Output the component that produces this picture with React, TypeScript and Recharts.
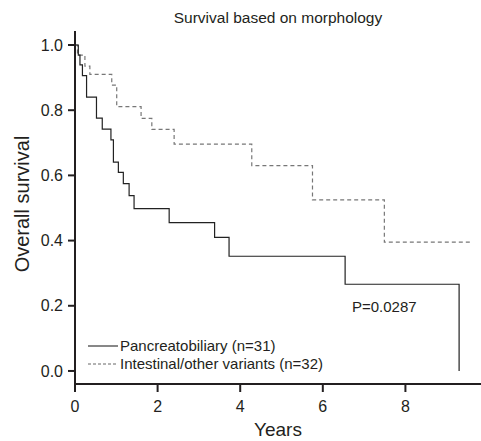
import { Line, LineChart, XAxis, YAxis } from "recharts";

// Kaplan-Meier estimates
const pancTimes = [0, 0.08, 0.12, 0.18, 0.28, 0.52, 0.66, 0.87, 0.93, 1.05, 1.17, 1.31, 1.43, 2.28, 3.38, 3.73, 6.54, 9.3];
const pancSurv = [1, 0.969, 0.939, 0.906, 0.84, 0.776, 0.742, 0.709, 0.641, 0.609, 0.575, 0.538, 0.498, 0.455, 0.41, 0.352, 0.266, 0];

const intTimes = [0, 0.06, 0.24, 0.36, 0.89, 1.01, 1.6, 1.86, 2.4, 4.28, 5.75, 7.49, 9.56];
const intSurv = [1, 0.969, 0.935, 0.91, 0.877, 0.811, 0.775, 0.741, 0.696, 0.63, 0.525, 0.395, 0.395];

const xTicks = [0, 2, 4, 6, 8];
const yTicks = [0, 0.2, 0.4, 0.6, 0.8, 1.0];

const seriesNames = ["Pancreatobiliary (n=31)", "Intestinal/other variants (n=32)"];
const pValueText = "P=0.0287";
const title = "Survival based on morphology";

const FONT = '"Liberation Sans", Arial, Helvetica, sans-serif';
const INK = "#231f20";

const pancData = pancTimes.map((t, i) => ({ t, s: pancSurv[i] }));
const intData = intTimes.map((t, i) => ({ t, s: intSurv[i] }));

// legend drawn as an overlay so it doesn't eat into the plot area
function KmLegend() {
	return (
		<div
			style={{
				position: "absolute",
				left: 88,
				top: 337,
				fontFamily: FONT,
				fontSize: 15,
				color: INK,
				lineHeight: "18.3px",
			}}
		>
			<div style={{ display: "flex", alignItems: "center" }}>
				<svg width={32} height={10}>
					<line x1={0} x2={30} y1={5} y2={5} stroke="#111" strokeWidth={1} />
				</svg>
				<span>{seriesNames[0]}</span>
			</div>
			<div style={{ display: "flex", alignItems: "center" }}>
				<svg width={32} height={10}>
					<line x1={0} x2={30} y1={5} y2={5} stroke="#666" strokeWidth={1} strokeDasharray="3 2" />
				</svg>
				<span>{seriesNames[1]}</span>
			</div>
		</div>
	);
}

function YLabel() {
	return (
		<text
			x={22}
			y={204}
			transform="rotate(-90 22 204)"
			textAnchor="middle"
			dominantBaseline="central"
			fontFamily={FONT}
			fontSize={20}
			fill={INK}
		>
			Overall survival
		</text>
	);
}

export default function App() {
	return (
		<div style={{ position: "absolute", left: 0, top: 0, width: 481, height: 441, background: "#fff" }}>
			<div
				style={{
					position: "absolute",
					left: 75,
					width: 406,
					top: 9,
					textAlign: "center",
					fontFamily: FONT,
					fontSize: 15.5,
					color: INK,
				}}
			>
				{title}
			</div>
			<div
				style={{
					position: "absolute",
					left: 352,
					top: 298,
					fontFamily: FONT,
					fontSize: 15,
					color: INK,
				}}
			>
				{pValueText}
			</div>
			<KmLegend />
			<LineChart width={481} height={441} margin={{ top: 31, right: 0, bottom: 0, left: 0 }}>
				<XAxis
					xAxisId="top"
					orientation="top"
					type="number"
					domain={[0, 1]}
					height={0}
					tick={false}
					tickLine={false}
					axisLine={{ stroke: INK, strokeWidth: 2 }}
				/>
				<XAxis
					dataKey="t"
					type="number"
					domain={[0, 9.83]}
					ticks={xTicks}
					allowDataOverflow
					height={57}
					tickSize={8}
					tickMargin={9}
					tick={{ fill: INK, fontSize: 16, fontFamily: FONT }}
					axisLine={{ stroke: INK, strokeWidth: 2 }}
					tickLine={{ stroke: INK, strokeWidth: 2 }}
					label={{ value: "Years", position: "insideBottom", offset: 5, fill: INK, fontSize: 19, fontFamily: FONT }}
				/>
				<YAxis
					type="number"
					domain={[-0.04, 1.043]}
					ticks={yTicks}
					allowDataOverflow
					width={75}
					tickSize={7}
					tickMargin={5}
					tickFormatter={(v: number) => v.toFixed(1)}
					tick={{ fill: INK, fontSize: 16, fontFamily: FONT }}
					axisLine={{ stroke: INK, strokeWidth: 2 }}
					tickLine={{ stroke: INK, strokeWidth: 2 }}
					label={<YLabel />}
				/>
				<Line
					data={intData}
					dataKey="s"
					type="stepAfter"
					stroke="#777"
					strokeWidth={1.2}
					strokeDasharray="4 3"
					dot={false}
					isAnimationActive={false}
				/>
				<Line
					data={pancData}
					dataKey="s"
					type="stepAfter"
					stroke="#222"
					strokeWidth={1.2}
					dot={false}
					isAnimationActive={false}
				/>
			</LineChart>
		</div>
	);
}
